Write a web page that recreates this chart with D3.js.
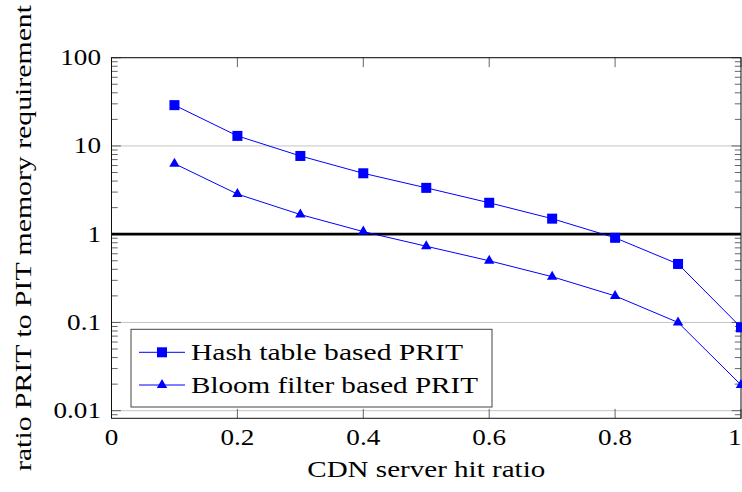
<!DOCTYPE html>
<html>
<head>
<meta charset="utf-8">
<script src="https://cdn.jsdelivr.net/npm/d3@7"></script>
<style>
  html, body { margin: 0; padding: 0; background: #fff; }
  svg { display: block; }
  text { font-family: "Liberation Serif", "DejaVu Serif", serif; fill: #000; }
</style>
</head>
<body>
<svg id="chart" width="742" height="492"></svg>
<script>
// CDN hit ratio on the x axis
const hitRatio = [0.1, 0.2, 0.3, 0.4, 0.5, 0.6, 0.7, 0.8, 0.9, 1.0];
// memory requirement ratio, PRIT vs PIT
const hashTable = [29, 13, 7.7, 4.9, 3.35, 2.27, 1.5, 0.91, 0.46, 0.088];
const bloomFilter = [6.3, 2.85, 1.67, 1.07, 0.73, 0.50, 0.33, 0.20, 0.10, 0.0196];
const seriesNames = ["Hash table based PRIT", "Bloom filter based PRIT"];
const xTicks = [0, 0.2, 0.4, 0.6, 0.8, 1];
const xTickLabels = ["0", "0.2", "0.4", "0.6", "0.8", "1"];
const yTicks = [0.01, 0.1, 1, 10, 100];
const yTickLabels = ["0.01", "0.1", "1", "10", "100"];
const referenceLevel = 1;

const svg = d3.select("#chart");
const plotLeft = 111.5, plotRight = 741, plotTop = 57.7, plotBottom = 418.3;
const blue = "#0000ff";
const fontSize = 23;

const x = d3.scaleLinear().domain([0, 1]).range([plotLeft, plotRight]);
const y = d3.scaleLog().domain([0.0082, 100]).range([plotBottom, plotTop]);

// stretch a text element horizontally to a given length
function fit(sel, len) {
  sel.attr("textLength", len).attr("lengthAdjust", "spacingAndGlyphs");
}
function widen(sel, k) {
  sel.each(function () {
    const w = this.getComputedTextLength();
    d3.select(this).attr("textLength", w * k).attr("lengthAdjust", "spacingAndGlyphs");
  });
}

// horizontal grid lines at the decades
svg.append("g").selectAll("line").data(yTicks).join("line")
  .attr("x1", plotLeft).attr("x2", plotRight)
  .attr("y1", d => y(d)).attr("y2", d => y(d))
  .attr("stroke", "#c4c4c4").attr("stroke-width", 1);

// minor ticks between decades (left and right, pointing inward)
const minor = [];
for (let e = -3; e <= 1; e++) {
  for (let m = 2; m <= 9; m++) {
    const v = m * Math.pow(10, e);
    if (v >= y.domain()[0] && v <= y.domain()[1]) minor.push(v);
  }
}
const tickG = svg.append("g").attr("stroke", "#555").attr("stroke-width", 0.9);
tickG.selectAll(".mL").data(minor).join("line")
  .attr("x1", plotLeft).attr("x2", plotLeft + 6.2)
  .attr("y1", d => y(d)).attr("y2", d => y(d));
tickG.selectAll(".mR").data(minor).join("line")
  .attr("x1", plotRight).attr("x2", plotRight - 6.2)
  .attr("y1", d => y(d)).attr("y2", d => y(d));
// major y ticks
tickG.selectAll(".MYL").data(yTicks).join("line")
  .attr("x1", plotLeft).attr("x2", plotLeft + 9.4)
  .attr("y1", d => y(d)).attr("y2", d => y(d));
tickG.selectAll(".MYR").data(yTicks).join("line")
  .attr("x1", plotRight).attr("x2", plotRight - 9.4)
  .attr("y1", d => y(d)).attr("y2", d => y(d));
// major x ticks, bottom and top
tickG.selectAll(".MXB").data(xTicks).join("line")
  .attr("x1", d => x(d)).attr("x2", d => x(d))
  .attr("y1", plotBottom).attr("y2", plotBottom - 9.4);
tickG.selectAll(".MXT").data(xTicks).join("line")
  .attr("x1", d => x(d)).attr("x2", d => x(d))
  .attr("y1", plotTop).attr("y2", plotTop + 9.4);

// thick reference line at ratio = 1
svg.append("line")
  .attr("x1", plotLeft).attr("x2", plotRight)
  .attr("y1", y(referenceLevel)).attr("y2", y(referenceLevel))
  .attr("stroke", "#000").attr("stroke-width", 2.7);

// axis frame
svg.append("rect")
  .attr("x", plotLeft).attr("y", plotTop)
  .attr("width", plotRight - plotLeft).attr("height", plotBottom - plotTop)
  .attr("fill", "none").attr("stroke", "#111").attr("stroke-width", 1);

// series
const line = d3.line().x(d => x(d[0])).y(d => y(d[1]));
const hashPts = hitRatio.map((h, i) => [h, hashTable[i]]);
const bloomPts = hitRatio.map((h, i) => [h, bloomFilter[i]]);

function squareMark(g, cx, cy) {
  const s = 10;
  g.append("rect").attr("x", cx - s / 2).attr("y", cy - s / 2)
    .attr("width", s).attr("height", s).attr("fill", blue);
}
function triangleMark(g, cx, cy) {
  const r = 6;
  const pts = [90, 210, 330].map(a => {
    const t = a * Math.PI / 180;
    return [cx + r * Math.cos(t), cy - r * Math.sin(t)];
  });
  g.append("polygon").attr("points", pts.map(p => p.join(",")).join(" "))
    .attr("fill", blue);
}

const sg = svg.append("g");
sg.append("path").attr("d", line(hashPts))
  .attr("fill", "none").attr("stroke", blue).attr("stroke-width", 1);
sg.append("path").attr("d", line(bloomPts))
  .attr("fill", "none").attr("stroke", blue).attr("stroke-width", 1);
hashPts.forEach(p => squareMark(sg, x(p[0]), y(p[1])));
bloomPts.forEach(p => triangleMark(sg, x(p[0]), y(p[1])));

// tick labels; the last one is kept inside the page edge
const xl = svg.append("g").selectAll("text").data(xTicks).join("text")
  .attr("x", d => d === 1 ? 741.5 : x(d)).attr("y", 445)
  .attr("text-anchor", d => d === 1 ? "end" : "middle").attr("font-size", fontSize)
  .text((d, i) => xTickLabels[i]);
widen(xl, 1.18);

const yl = svg.append("g").selectAll("text").data(yTicks).join("text")
  .attr("x", 101).attr("y", d => y(d) + 7.5)
  .attr("text-anchor", "end").attr("font-size", fontSize)
  .text((d, i) => yTickLabels[i]);
widen(yl, 1.18);

// axis titles
svg.append("text")
  .attr("x", (plotLeft + plotRight) / 2).attr("y", 476.5)
  .attr("text-anchor", "middle").attr("font-size", fontSize)
  .text("CDN server hit ratio")
  .call(fit, 238);

svg.append("text")
  .attr("transform", `translate(31,${238}) rotate(-90)`)
  .attr("text-anchor", "middle").attr("font-size", fontSize)
  .text("ratio PRIT to PIT memory requirement")
  .call(fit, 466);

// legend
const lg = svg.append("g");
lg.append("rect")
  .attr("x", 131).attr("y", 329.3).attr("width", 361).attr("height", 77.7)
  .attr("fill", "#fff").attr("stroke", "#444").attr("stroke-width", 1);
const rows = [352.3, 385];
const legendWidths = [272, 287];
const markers = [squareMark, triangleMark];
rows.forEach((ry, i) => {
  lg.append("line").attr("x1", 139).attr("x2", 185).attr("y1", ry).attr("y2", ry)
    .attr("stroke", blue).attr("stroke-width", 1);
  markers[i](lg, 162, ry);
  lg.append("text").attr("x", 191).attr("y", ry + 7.5)
    .attr("font-size", fontSize).text(seriesNames[i])
    .call(fit, legendWidths[i]);
});
</script>
</body>
</html>
